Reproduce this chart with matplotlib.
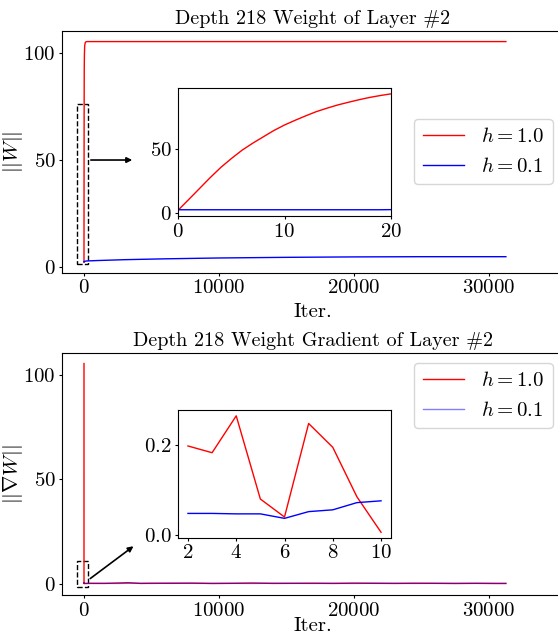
import matplotlib
matplotlib.use("Agg")
import matplotlib.pyplot as plt
from matplotlib.patches import Rectangle

plt.rcParams['font.family'] = ['cmr10', 'DejaVu Sans']
plt.rcParams['mathtext.fontset'] = 'cm'
plt.rcParams['axes.formatter.use_mathtext'] = True
plt.rcParams['font.size'] = 15
plt.rcParams['xtick.major.size'] = 2.5
plt.rcParams['ytick.major.size'] = 2.5
plt.rcParams['xtick.major.pad'] = 2.2
plt.rcParams['ytick.major.pad'] = 2.2

# ---------------- data ----------------
labels = ["$h = 1.0$", "$h = 0.1$"]

# weight norm, first iterations (inset)
w_iter_early = [0, 1, 2, 3, 4, 5, 6, 7, 8, 9, 10, 11, 12, 13, 14, 15, 16, 17, 18, 19, 20]
w_red_early = [2.1, 10.5, 19.0, 27.5, 35.5, 42.5, 49.0, 54.5, 59.5, 64.5, 68.8,
               72.5, 76.0, 79.3, 82.0, 84.5, 86.6, 88.6, 90.4, 91.9, 93.2]
w_blue_early = [2.3, 2.3, 2.3, 2.3, 2.3, 2.3, 2.3, 2.3, 2.3, 2.3, 2.3,
                2.3, 2.3, 2.3, 2.3, 2.3, 2.3, 2.3, 2.3, 2.3, 2.4]
# weight norm, rest of training
w_iter_late = [30, 50, 100, 200, 1000, 3000, 6000, 10000, 15000, 20000, 25000, 31250]
w_red_late = [99.0, 103.5, 105.2, 105.5, 105.5, 105.5, 105.5, 105.5, 105.5, 105.5, 105.5, 105.5]
w_blue_late = [2.4, 2.5, 2.6, 2.7, 2.9, 3.3, 3.7, 4.1, 4.4, 4.6, 4.7, 4.7]

# gradient norm, first iterations
g_iter_early = [0, 1]
g_red_early = [105.6, 1.2]
g_blue_early = [0.3, 0.1]
g_iter_inset = [2, 3, 4, 5, 6, 7, 8, 9, 10]
g_red_inset = [0.197, 0.182, 0.264, 0.079, 0.039, 0.247, 0.194, 0.084, 0.005]
g_blue_inset = [0.047, 0.047, 0.046, 0.046, 0.036, 0.051, 0.055, 0.071, 0.075]
# gradient norm, rest of training
g_iter_late = [500, 1500, 2500, 3300, 4200, 5000, 6500, 8000, 9500, 11000, 12500, 14000,
               15500, 17000, 18500, 20000, 21500, 23000, 24500, 26000, 27500, 29000, 30500, 31250]
g_red_late = [0.10, 0.05, 0.25, 0.40, 0.05, 0.15, 0.10, 0.20, 0.05, 0.10, 0.25, 0.05,
              0.10, 0.15, 0.05, 0.20, 0.10, 0.05, 0.15, 0.10, 0.05, 0.10, 0.05, 0.05]
g_blue_late = [0.05, 0.10, 0.05, 0.15, 0.10, 0.05, 0.20, 0.10, 0.05, 0.10, 0.05, 0.15,
               0.10, 0.05, 0.10, 0.05, 0.15, 0.10, 0.05, 0.10, 0.05, 0.10, 0.05, 0.05]

w_iter = w_iter_early + w_iter_late
w_red = w_red_early + w_red_late
w_blue = w_blue_early + w_blue_late
g_iter = g_iter_early + g_iter_inset + g_iter_late
g_red = g_red_early + g_red_inset + g_red_late
g_blue = g_blue_early + g_blue_inset + g_blue_late

# ---------------- figure ----------------
W, H = 558, 635
fig = plt.figure(figsize=(W / 100, H / 100), dpi=100)

def box(l, t, r, b):
    return [l / W, 1 - b / H, (r - l) / W, (b - t) / H]

XLIM = (-1607, 35482)
AXW = 563 - 62.3
AXH = 242.0

# ---- top main ----
ax1 = fig.add_axes(box(62.3, 30.7, 563, 272.7))
ax1.plot(w_iter, w_red, color='red', lw=1.0, label=labels[0])
ax1.plot(w_iter, w_blue, color='blue', lw=1.0, label=labels[1])
ax1.set_xlim(*XLIM)
ax1.set_ylim(-2.8, 110.6)
ax1.set_xticks([0, 10000, 20000, 30000])
ax1.set_yticks([0, 50, 100])
ax1.set_title("Depth 218 Weight of Layer #2", fontsize=14.5, pad=5)
ax1.set_xlabel("Iter.", fontsize=15)
ax1.set_ylabel(r"$||W||$", fontsize=15)
ax1.yaxis.set_label_coords(-37 / AXW, 0.5)
ax1.xaxis.set_label_coords(0.5, -30 / AXH)
ax1.legend(loc='center right', fontsize=15)
ax1.add_patch(Rectangle((-496, 1.1), 770, 75.2, fill=False, ls='--', lw=1.0, ec='black'))
ax1.annotate('', xy=(3780, 50), xytext=(300, 50),
             arrowprops=dict(arrowstyle='-|>', color='black', lw=1.2, mutation_scale=8))

# ---- top inset ----
in1 = fig.add_axes(box(178.3, 88.3, 390.7, 216))
in1.plot(w_iter_early, w_red_early, color='red', lw=1.0)
in1.plot(w_iter_early, w_blue_early, color='blue', lw=1.0)
in1.set_xlim(0, 20)
in1.set_ylim(-2.6, 97.6)
in1.set_xticks([0, 10, 20])
in1.set_yticks([0, 50])

# ---- bottom main ----
ax2 = fig.add_axes(box(62.3, 352.7, 563, 595))
ax2.plot(g_iter, g_red, color='red', lw=1.0, label=labels[0])
ax2.plot(g_iter, g_blue, color='blue', lw=1.0, alpha=0.5, label=labels[1])
ax2.set_xlim(*XLIM)
ax2.set_ylim(-5.5, 110.8)
ax2.set_xticks([0, 10000, 20000, 30000])
ax2.set_yticks([0, 50, 100])
ax2.set_title("Depth 218 Weight Gradient of Layer #2", fontsize=14.5, pad=5)
ax2.set_xlabel("Iter.", fontsize=15)
ax2.set_ylabel(r"$||\nabla W||$", fontsize=15)
ax2.yaxis.set_label_coords(-37 / AXW, 0.5)
ax2.xaxis.set_label_coords(0.5, -22 / AXH)
ax2.legend(loc='upper right', fontsize=15)
ax2.add_patch(Rectangle((-496, -1.6), 770, 12.4, fill=False, ls='--', lw=1.0, ec='black'))
ax2.annotate('', xy=(3830, 18.7), xytext=(300, 1.6),
             arrowprops=dict(arrowstyle='-|>', color='black', lw=1.2, mutation_scale=8))

# ---- bottom inset ----
in2 = fig.add_axes(box(178.3, 410, 390.7, 537.7))
in2.plot(g_iter_inset, g_red_inset, color='red', lw=1.0)
in2.plot(g_iter_inset, g_blue_inset, color='blue', lw=1.0)
in2.set_xlim(1.6, 10.4)
in2.set_ylim(-0.007, 0.277)
in2.set_xticks([2, 4, 6, 8, 10])
in2.set_yticks([0.0, 0.2])

fig.savefig("out.png", dpi=100)
